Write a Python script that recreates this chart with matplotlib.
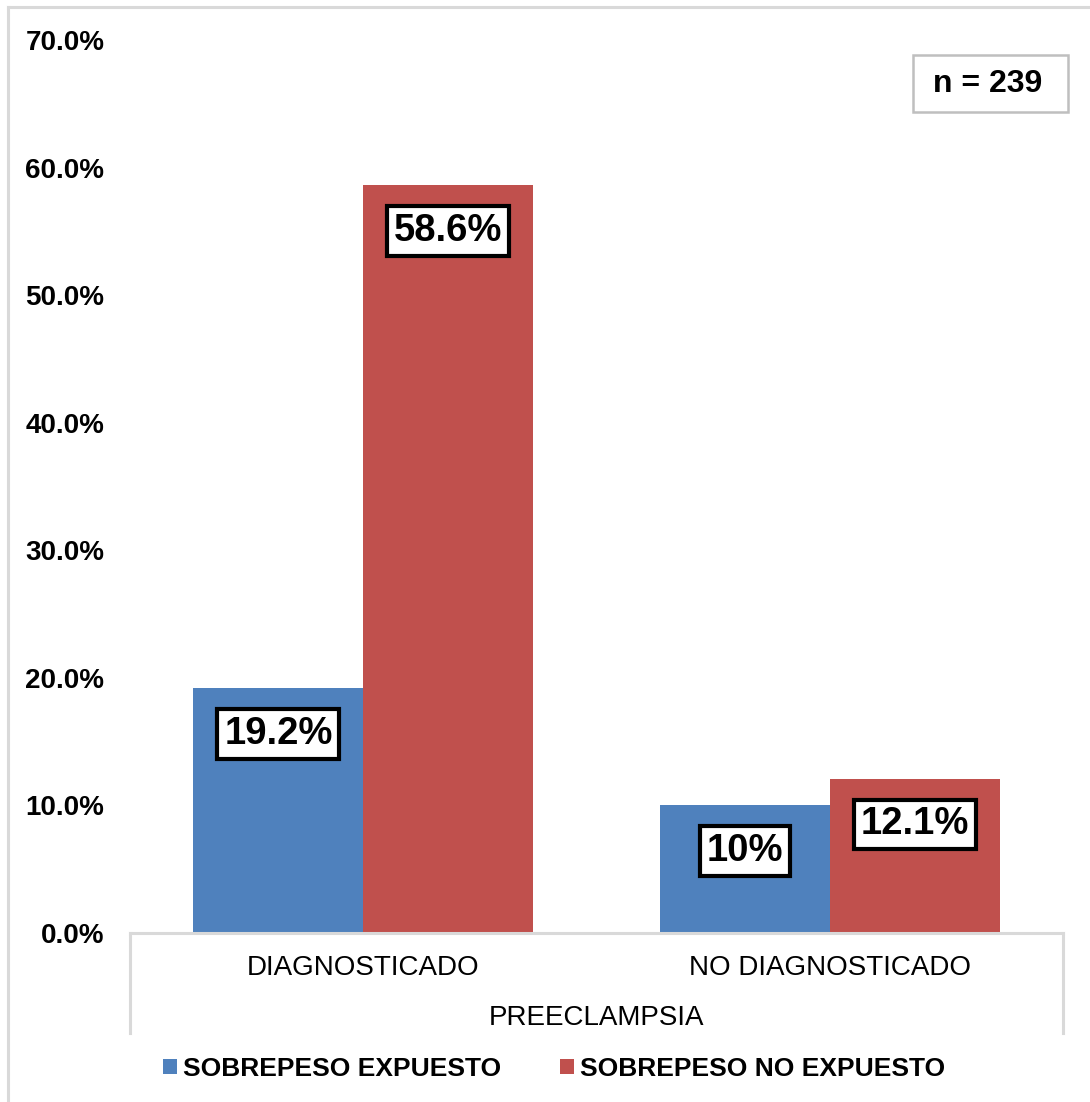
import matplotlib
matplotlib.use("Agg")
import matplotlib.pyplot as plt
from matplotlib.lines import Line2D
from matplotlib.patches import Patch, Rectangle

plt.rcParams['font.family'] = ['Liberation Sans', 'DejaVu Sans']

categories = ["DIAGNOSTICADO", "NO DIAGNOSTICADO"]
group_label = "PREECLAMPSIA"
series_names = ["SOBREPESO EXPUESTO", "SOBREPESO NO EXPUESTO"]
expuesto = [19.2, 10.0]
no_expuesto = [58.6, 12.1]
value_labels = [["19.2%", "10%"], ["58.6%", "12.1%"]]
yticks = [0, 10, 20, 30, 40, 50, 60, 70]
ytick_labels = ["0.0%", "10.0%", "20.0%", "30.0%", "40.0%", "50.0%", "60.0%", "70.0%"]
sample_note = "n = 239"

colors = ["#4F81BD", "#C0504D"]
W, H = 1090, 1102
fig = plt.figure(figsize=(W / 100, H / 100), dpi=100)

# Frame lines around the chart area (top and left edges)
fig.add_artist(Line2D([8 / W, 8 / W], [0, 1 - 7 / H], color="#D9D9D9", lw=2.2))
fig.add_artist(Line2D([8 / W, 1], [1 - 7 / H, 1 - 7 / H], color="#D9D9D9", lw=2.2))

left, right = 130 / W, 1063 / W
bottom, top = (H - 933) / H, (H - 40) / H
ax = fig.add_axes([left, bottom, right - left, top - bottom])
ax.set_xlim(-0.5, 1.5)
ax.set_ylim(0, 70)

width = 0.364
x = list(range(len(categories)))
series = [expuesto, no_expuesto]
for i, vals in enumerate(series):
    pos = [xi + (i - 0.5) * width for xi in x]
    bars = ax.bar(pos, vals, width=width, color=colors[i], label=series_names[i], zorder=2)
    for b, lab in zip(bars, value_labels[i]):
        ax.annotate(lab, (b.get_x() + b.get_width() / 2, b.get_height()),
                    xytext=(0, -33), textcoords="offset points",
                    ha="center", va="center", fontsize=27.5, fontweight="bold",
                    bbox=dict(boxstyle="square,pad=0.18", fc="white", ec="black", lw=3),
                    zorder=4)

for s in ["top", "right", "left"]:
    ax.spines[s].set_visible(False)
ax.spines["bottom"].set_color("#D9D9D9")
ax.spines["bottom"].set_linewidth(2.2)

ax.set_yticks(yticks)
ax.set_yticklabels(ytick_labels, fontsize=20, fontweight="bold")
ax.tick_params(axis="y", length=0, pad=18.5)
ax.set_xticks([])

# Multi-level category axis: outer verticals, category names and group title
ext = 100 / (933 - 40)
for xv in (0, 1):
    ax.add_line(Line2D([xv, xv], [0, -ext], transform=ax.transAxes, color="#D9D9D9",
                       lw=2.2, clip_on=False))
for xi, cat in zip(x, categories):
    ax.annotate(cat, (xi, 0), xycoords=("data", "axes fraction"), xytext=(0, -25),
                textcoords="offset points", ha="center", va="center", fontsize=20)
ax.annotate(group_label, (0.5, 0), xycoords="axes fraction", xytext=(0, -61),
            textcoords="offset points", ha="center", va="center", fontsize=20)

# Sample size note
fig.add_artist(Rectangle((913 / W, 1 - 112 / H), 155 / W, 57 / H, transform=fig.transFigure,
                         fc="white", ec="#BFBFBF", lw=1.8))
fig.text(988 / W, 1 - 84 / H, sample_note, ha="center", va="center", fontsize=23,
         fontweight="bold")

handles = [Patch(facecolor=c) for c in colors]
fig.legend(handles, series_names, loc="center", bbox_to_anchor=(554 / W, 1 - 1069 / H),
           ncol=2, frameon=False, prop={"size": 19, "weight": "bold"},
           handlelength=0.53, handleheight=0.53, handletextpad=0.25, columnspacing=2.2)

fig.savefig("out.png", dpi=100)
